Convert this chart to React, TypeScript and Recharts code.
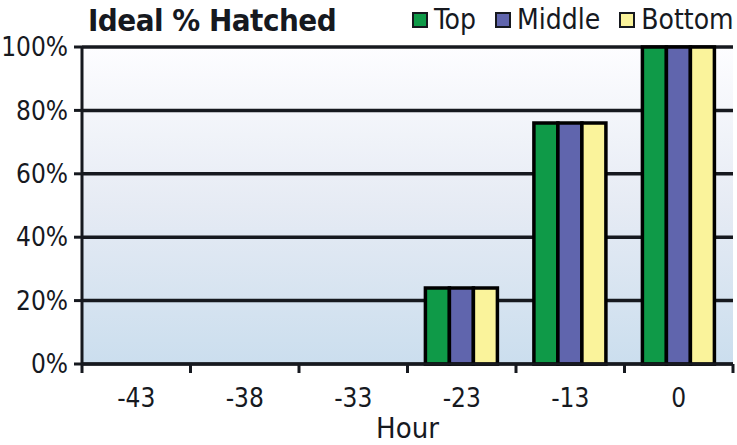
import React from "react";
import { BarChart, Bar, XAxis, YAxis, CartesianGrid } from "recharts";

const hours = ["-43", "-38", "-33", "-23", "-13", "0"];
const topValues = [0, 0, 0, 0.24, 0.76, 1];
const middleValues = [0, 0, 0, 0.24, 0.76, 1];
const bottomValues = [0, 0, 0, 0.24, 0.76, 1];
const yTicks = [0, 0.2, 0.4, 0.6, 0.8, 1];

const series = [
  { key: "top", name: "Top", color: "#0f9a48" },
  { key: "middle", name: "Middle", color: "#6065ad" },
  { key: "bottom", name: "Bottom", color: "#faf39b" },
];

const data = hours.map((hour, i) => ({
  hour,
  top: topValues[i],
  middle: middleValues[i],
  bottom: bottomValues[i],
}));

const WIDTH = 737;
const HEIGHT = 445;
const MARGIN = { top: 47, right: 4, left: 0, bottom: 0 };
const Y_AXIS_W = 82;
const X_AXIS_H = 81;
const FONT = "'DejaVu Sans Condensed', 'DejaVu Sans', sans-serif";
const INK = "#16191f";

const bandWidth = (WIDTH - MARGIN.left - MARGIN.right - Y_AXIS_W) / hours.length;

function HourTick(props: any) {
  const { x, y, payload, index } = props;
  const lineTop = y - 12;
  return (
    <g>
      <line x1={x - bandWidth / 2} x2={x - bandWidth / 2} y1={lineTop} y2={lineTop + 9} stroke={INK} strokeWidth={3} />
      {index === hours.length - 1 && (
        <line x1={x + bandWidth / 2} x2={x + bandWidth / 2} y1={lineTop} y2={lineTop + 9} stroke={INK} strokeWidth={3} />
      )}
      <text x={x} y={y + 31} textAnchor="middle" fontSize={26} fill={INK} fontFamily={FONT}>
        {payload.value}
      </text>
    </g>
  );
}

export default function App() {
  return (
    <div style={{ position: "absolute", left: 0, top: 0, width: WIDTH, height: HEIGHT, background: "#fff", fontFamily: FONT }}>
      <div
        style={{
          position: "absolute",
          left: 88,
          top: 5,
          fontSize: 31,
          fontWeight: "bold",
          lineHeight: 1,
          color: INK,
          whiteSpace: "nowrap",
          letterSpacing: -0.5,
        }}
      >
        Ideal % Hatched
      </div>
      <div
        style={{
          position: "absolute",
          left: 412,
          top: 6,
          width: 325,
          display: "flex",
          flexWrap: "nowrap",
          alignItems: "center",
          lineHeight: 1,
          whiteSpace: "nowrap",
        }}
      >
        {series.map((s, i) => (
          <div key={s.key} style={{ display: "flex", alignItems: "center", flexShrink: 0, marginRight: i < series.length - 1 ? 19 : 0 }}>
            <span
              style={{
                display: "inline-block",
                width: 12,
                height: 12,
                background: s.color,
                border: `2px solid ${INK}`,
                marginRight: 6,
              }}
            />
            <span style={{ fontSize: 28, color: INK }}>{s.name}</span>
          </div>
        ))}
      </div>
      <BarChart width={WIDTH} height={HEIGHT} data={data} margin={MARGIN} barCategoryGap="16.5%" barGap={0}>
        <defs>
          <linearGradient id="plotBg" x1="0" y1="0" x2="0" y2="1">
            <stop offset="0%" stopColor="#fdfdff" />
            <stop offset="50%" stopColor="#e6ebf4" />
            <stop offset="100%" stopColor="#cbdeee" />
          </linearGradient>
        </defs>
        <CartesianGrid
          vertical={false}
          fill="url(#plotBg)"
          fillOpacity={1}
          stroke={INK}
          strokeWidth={3.5}
        />
        <XAxis
          dataKey="hour"
          height={X_AXIS_H}
          axisLine={{ stroke: INK, strokeWidth: 3 }}
          tickLine={false}
          tickSize={8}
          tickMargin={4}
          tick={<HourTick />}
          interval={0}
          label={{ value: "Hour", position: "insideBottom", offset: 7, fontSize: 29, fill: INK, fontFamily: FONT }}
        />
        <YAxis
          width={Y_AXIS_W}
          domain={[0, 1]}
          ticks={yTicks}
          tickFormatter={(v: number) => `${Math.round(v * 100)}%`}
          axisLine={{ stroke: INK, strokeWidth: 3 }}
          tickLine={{ stroke: INK, strokeWidth: 3 }}
          tickSize={8}
          tickMargin={6}
          tick={{ fontSize: 26, fill: INK, fontFamily: FONT }}
        />
        {series.map((s) => (
          <Bar
            key={s.key}
            dataKey={s.key}
            name={s.name}
            fill={s.color}
            stroke="#000"
            strokeWidth={3.5}
            isAnimationActive={false}
          />
        ))}
      </BarChart>
    </div>
  );
}
